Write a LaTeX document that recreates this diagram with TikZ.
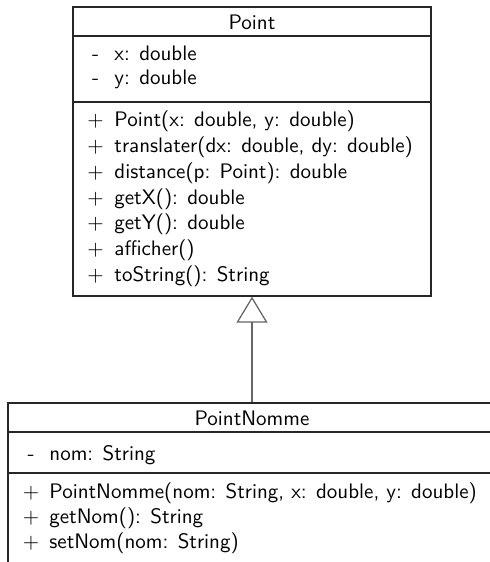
\documentclass[tikz,border=0pt]{standalone}
\usetikzlibrary{arrows.meta,fit}
\begin{document}
\begin{tikzpicture}[x=0.4762pt,y=-0.4762pt,
  box/.style={draw=black!85,line width=0.65pt,inner sep=0pt,fit=#1},
  sep/.style={draw=black!85,line width=0.65pt},
  txt/.style={anchor=base west,inner sep=0pt,font=\sffamily\fontsize{10}{12}\selectfont},
  sym/.style={anchor=base,inner sep=0pt,font=\sffamily\fontsize{10}{12}\selectfont},
  ttl/.style={anchor=base,inner sep=0pt,font=\sffamily\fontsize{10}{12}\selectfont},
  inherit/.style={draw=black!60,line width=0.65pt,-{Triangle[open,length=12.4pt,width=14.8pt,line width=0.6pt]}}]
\useasboundingbox (0,0) rectangle (490,562);
\clip (0,0) rectangle (490,562);
% top class
\coordinate (p1) at (73,7);
\coordinate (p2) at (431,296);
\node[box={(p1)(p2)}] (point) {};
\draw[sep] (73,36) -- (431,36);
\draw[sep] (73,102) -- (431,102);
\node[ttl] (pt) at (252,29.5) {Point};
\node[sym] (pa1s) at (95.5,60.5) {-};
\node[txt] (pa1) at (114,60.5) {x: double};
\node[sym] (pa2s) at (95.5,85) {-};
\node[txt] (pa2) at (114,85) {y: double};
\foreach \i/\t in {0/{Point(x: double, y: double)},1/{translater(dx: double, dy: double)},2/{distance(p: Point): double},3/{getX(): double},4/{getY(): double},5/{afficher()},6/{toString(): String}}{
  \node[sym] (pm\i s) at (95.5,127+25.67*\i) {$+$};
  \node[txt] (pm\i) at (114,127+25.67*\i) {\t};
}
% bottom class
\coordinate (q1) at (8,403);
\coordinate (q2) at (496,620);
\node[box={(q1)(q2)}] (pn) {};
\draw[sep] (8,432) -- (496,432);
\draw[sep] (8,473) -- (496,473);
\node[ttl] (pnt) at (252,425) {PointNomme};
\node[sym] (na1s) at (31,460) {-};
\node[txt] (na1) at (49,460) {nom: String};
\foreach \i/\t in {0/{PointNomme(nom: String, x: double, y: double)},1/{getNom(): String},2/{setNom(nom: String)}}{
  \node[sym] (nm\i s) at (31,498.3+25*\i) {$+$};
  \node[txt] (nm\i) at (49,498.3+25*\i) {\t};
}
% inheritance
\draw[inherit] (pn.north) -- (point.south);
\end{tikzpicture}
\end{document}
